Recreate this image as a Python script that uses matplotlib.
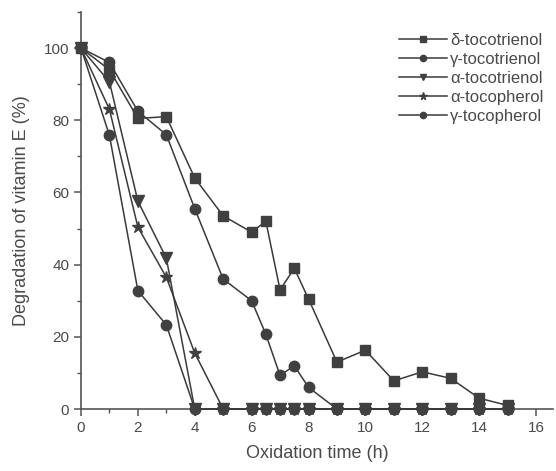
import matplotlib
matplotlib.use("Agg")
import matplotlib.pyplot as plt
from matplotlib.ticker import MultipleLocator

plt.rcParams['font.family'] = ['Liberation Sans', 'DejaVu Sans']

# oxidation time (h)
hours = [0, 1, 2, 3, 4, 5, 6, 6.5, 7, 7.5, 8, 9, 10, 11, 12, 13, 14, 15]

# degradation of vitamin E (%)
d_tocotrienol = [100, 94, 80.5, 81, 64, 53.5, 49, 52, 33, 39, 30.5, 13, 16.3, 7.8, 10.3, 8.5, 3, 1]
g_tocotrienol = [100, 96, 82.5, 76, 55.5, 36, 30, 20.7, 9.3, 12, 6, 0, 0, 0, 0, 0, 0, 0]
a_tocotrienol = [100, 90.6, 57.6, 41.8, 0, 0, 0, 0, 0, 0, 0, 0, 0, 0, 0, 0, 0, 0]
a_tocopherol = [100, 83, 50.4, 36.5, 15.5, 0, 0, 0, 0, 0, 0, 0, 0, 0, 0, 0, 0, 0]
g_tocopherol = [100, 75.8, 32.8, 23.3, 0, 0, 0, 0, 0, 0, 0, 0, 0, 0, 0, 0, 0, 0]

series = [
    (d_tocotrienol, 's', 7, '\u03b4-tocotrienol'),
    (g_tocotrienol, 'o', 7.5, '\u03b3-tocotrienol'),
    (a_tocotrienol, 'v', 8, '\u03b1-tocotrienol'),
    (a_tocopherol, '*', 9, '\u03b1-tocopherol'),
    (g_tocopherol, 'o', 7.5, '\u03b3-tocopherol'),
]

line_col = '#3a3a3a'
text_col = '#4a4a4a'

fig = plt.figure(figsize=(5.56, 4.71), dpi=100)
ax = fig.add_axes([0.1457, 0.1316, 0.849, 0.843])

for vals, mk, ms, lab in series:
    ax.plot(hours, vals, color=line_col, lw=1.1, marker=mk, ms=ms,
            mfc='#404040', mec='#404040', label=lab, clip_on=False, zorder=3)

ax.set_xlim(0, 16.6)
ax.set_ylim(0, 110)
ax.xaxis.set_major_locator(MultipleLocator(2))
ax.xaxis.set_minor_locator(MultipleLocator(1))
ax.yaxis.set_major_locator(MultipleLocator(20))
ax.yaxis.set_minor_locator(MultipleLocator(10))
ax.set_yticks([0, 20, 40, 60, 80, 100])

for s in ['top', 'right']:
    ax.spines[s].set_visible(False)
for s in ['left', 'bottom']:
    ax.spines[s].set_color('#555555')
    ax.spines[s].set_linewidth(1.2)

ax.tick_params(which='major', direction='out', length=5, width=1.1,
               color='#555555', labelcolor=text_col, labelsize=11)
ax.tick_params(which='minor', direction='out', length=3, width=1.0, color='#555555')

ax.set_xlabel('Oxidation time (h)', fontsize=13, color=text_col, labelpad=7)
ax.set_ylabel('Degradation of vitamin E (%)', fontsize=13, color=text_col, labelpad=10)

leg = ax.legend(loc='upper right', bbox_to_anchor=(0.99, 0.945), bbox_transform=fig.transFigure,
                frameon=False, fontsize=12, handlelength=2.9, handletextpad=0.2,
                labelspacing=0.25, markerscale=0.6, borderaxespad=0)
for t in leg.get_texts():
    t.set_color(text_col)

fig.savefig('out.png', dpi=100)
